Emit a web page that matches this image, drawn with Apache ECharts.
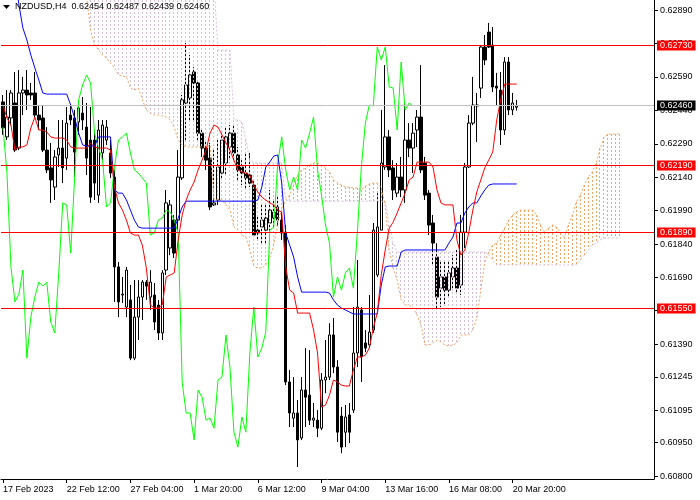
<!DOCTYPE html>
<html>
<head>
<meta charset="utf-8">
<script src="https://cdn.jsdelivr.net/npm/echarts@6.0.0/dist/echarts.min.js"></script>
<style>
  html, body { margin: 0; padding: 0; background: #fff; }
  #chart { width: 700px; height: 500px; }
</style>
</head>
<body>
<div id="chart"></div>
<script>
// ---------------- DATA ----------------
const symbol = 'NZDUSD';
const timeframe = 'H4';

// x-axis tick labels, one every 16 H4 bars starting at bar 0
const xTickLabels = ['17 Feb 2023', '22 Feb 12:00', '27 Feb 04:00', '1 Mar 20:00', '6 Mar 12:00',
  '9 Mar 04:00', '13 Mar 16:00', '16 Mar 08:00', '20 Mar 20:00'];
const barsPerXLabel = 16;

// right price-axis labels
const yTickLabels = ['0.60800', '0.60950', '0.61095', '0.61245', '0.61390', '0.61545', '0.61690',
  '0.61840', '0.61990', '0.62140', '0.62290', '0.62440', '0.62590', '0.62740', '0.62890'];

// horizontal levels drawn on the chart
const redLevels = [0.62730, 0.62190, 0.61890, 0.61550];

const open = [
  0.62478,0.62321,0.62406,0.62473,0.62271,0.62518,0.62531,0.62518,0.62518,0.62419,
  0.62406,0.62262,0.62182,0.62096,0.62240,0.62271,0.62226,0.62419,0.62406,0.62388,
  0.62428,0.62365,0.62307,0.62307,0.62060,0.62249,0.62307,0.62249,0.62141,0.61738,
  0.61612,0.61558,0.61590,0.61329,0.61513,0.61603,0.61670,0.61603,0.61612,0.61567,
  0.61442,0.61724,0.61823,0.61948,0.61948,0.62137,0.62473,0.62496,0.62612,0.62563,
  0.62338,0.62271,0.62226,0.62016,0.62038,0.62159,0.62204,0.62276,0.62338,0.62240,
  0.62186,0.62159,0.62150,0.62105,0.61903,0.61917,0.61903,0.61935,0.61957,0.62007,
  0.61948,0.61894,0.61222,0.61060,0.61083,0.60971,0.61186,0.61163,0.61051,0.61051,
  0.61015,0.61231,0.61244,0.61433,0.61289,0.61069,0.60997,0.61074,0.61096,0.61352,
  0.61545,0.61397,0.61388,0.61455,0.61702,0.61903,0.62186,0.62321,0.62182,0.62069,
  0.62141,0.62083,0.62307,0.62271,0.62352,0.62410,0.62204,0.62069,0.61935,0.61782,
  0.61643,0.61693,0.61634,0.61693,0.61733,0.61657,0.61894,0.62186,0.62383,0.62464,
  0.62540,0.62724,0.62791,0.62733,0.62549,0.62531,0.62352,0.62657,0.62442,0.62454];

const high = [
  0.62509,0.62531,0.62531,0.62612,0.62621,0.62590,0.62621,0.62563,0.62612,0.62464,
  0.62464,0.62365,0.62294,0.62262,0.62397,0.62397,0.62455,0.62464,0.62442,0.62473,
  0.62500,0.62473,0.62455,0.62352,0.62397,0.62397,0.62397,0.62307,0.62173,0.61760,
  0.61693,0.61738,0.61657,0.61679,0.61679,0.61679,0.61679,0.61724,0.61666,0.61590,
  0.61724,0.62083,0.62038,0.61971,0.62262,0.62509,0.62742,0.62688,0.62634,0.62576,
  0.62352,0.62307,0.62294,0.62262,0.62307,0.62338,0.62361,0.62374,0.62374,0.62276,
  0.62217,0.62253,0.62249,0.62128,0.61971,0.62016,0.62025,0.62083,0.62038,0.62060,
  0.61984,0.61926,0.61276,0.61244,0.61141,0.61244,0.61374,0.61365,0.61128,0.61096,
  0.61262,0.61410,0.61486,0.61509,0.61320,0.61110,0.61119,0.61128,0.61558,0.61769,
  0.61558,0.61455,0.61612,0.61935,0.62069,0.62442,0.62643,0.62352,0.62217,0.62204,
  0.62231,0.62478,0.62383,0.62383,0.62442,0.62643,0.62231,0.62083,0.61971,0.61845,
  0.61769,0.61760,0.61769,0.61791,0.61814,0.61971,0.62204,0.62419,0.62590,0.62518,
  0.62733,0.62778,0.62832,0.62814,0.62608,0.62612,0.62679,0.62679,0.62518,0.62487];

const low = [
  0.62330,0.62307,0.62374,0.62253,0.62262,0.62419,0.62442,0.62487,0.62406,0.62352,
  0.62253,0.62159,0.62025,0.62038,0.62186,0.62114,0.62173,0.62374,0.62141,0.62330,
  0.62352,0.62150,0.62025,0.62038,0.62025,0.62217,0.62285,0.62137,0.61581,0.61513,
  0.61576,0.61513,0.61320,0.61320,0.61410,0.61500,0.61590,0.61545,0.61455,0.61410,
  0.61410,0.61702,0.61791,0.61778,0.61903,0.62128,0.62307,0.62397,0.62397,0.62307,
  0.62231,0.62173,0.61993,0.62011,0.62016,0.62128,0.62150,0.62217,0.62217,0.62128,
  0.62105,0.62083,0.62096,0.61872,0.61859,0.61836,0.61845,0.61894,0.61912,0.61921,
  0.61859,0.61208,0.61020,0.61020,0.60841,0.60962,0.61020,0.61029,0.61020,0.60975,
  0.61006,0.61172,0.61231,0.61262,0.60953,0.60903,0.60930,0.60948,0.61083,0.61289,
  0.61222,0.61356,0.61374,0.61442,0.61693,0.61903,0.62173,0.62141,0.62038,0.62051,
  0.62051,0.62025,0.62231,0.62159,0.62276,0.62159,0.62038,0.61881,0.61747,0.61545,
  0.61558,0.61567,0.61603,0.61634,0.61625,0.61612,0.61823,0.62182,0.62374,0.62298,
  0.62496,0.62643,0.62720,0.62522,0.62464,0.62285,0.62330,0.62419,0.62419,0.62439];

const close = [
  0.62361,0.62410,0.62518,0.62262,0.62518,0.62531,0.62509,0.62509,0.62419,0.62397,
  0.62262,0.62173,0.62128,0.62231,0.62271,0.62182,0.62383,0.62397,0.62253,0.62451,
  0.62397,0.62226,0.62051,0.62114,0.62352,0.62374,0.62365,0.62159,0.61738,0.61581,
  0.61616,0.61724,0.61329,0.61513,0.61603,0.61670,0.61652,0.61670,0.61491,0.61442,
  0.61711,0.62025,0.62016,0.61800,0.62141,0.62487,0.62554,0.62599,0.62563,0.62338,
  0.62271,0.62217,0.62007,0.62025,0.62186,0.62307,0.62321,0.62338,0.62249,0.62173,
  0.62159,0.62137,0.62114,0.61881,0.61890,0.61948,0.61957,0.61993,0.61984,0.61948,
  0.61890,0.61222,0.61083,0.61083,0.60962,0.61186,0.61154,0.61051,0.61060,0.61015,
  0.61231,0.61244,0.61433,0.61289,0.60997,0.60930,0.61065,0.60997,0.61352,0.61558,
  0.61334,0.61374,0.61446,0.61903,0.61917,0.62204,0.62321,0.62173,0.62083,0.62141,
  0.62083,0.62307,0.62271,0.62338,0.62410,0.62173,0.62060,0.61926,0.61845,0.61603,
  0.61693,0.61634,0.61711,0.61733,0.61643,0.61894,0.62186,0.62383,0.62464,0.62460,
  0.62724,0.62666,0.62724,0.62545,0.62540,0.62352,0.62657,0.62442,0.62473,0.62460];

// Ichimoku: Tenkan-sen (red)
const tenkan = [
  0.62464,0.62406,0.62374,0.62262,0.62276,0.62276,0.62285,0.62361,0.62410,0.62352,
  0.62352,0.62343,0.62321,0.62316,0.62316,0.62316,0.62307,0.62276,0.62271,0.62271,
  0.62271,0.62271,0.62294,0.62276,0.62271,0.62271,0.62271,0.62262,0.62096,0.62025,
  0.61993,0.61948,0.61890,0.61881,0.61881,0.61836,0.61733,0.61567,0.61554,0.61554,
  0.61567,0.61693,0.61702,0.61711,0.61859,0.61971,0.62038,0.62083,0.62119,0.62173,
  0.62217,0.62262,0.62338,0.62374,0.62365,0.62330,0.62294,0.62262,0.62217,0.62173,
  0.62164,0.62159,0.62150,0.62105,0.62074,0.62051,0.62038,0.62025,0.62016,0.61993,
  0.61984,0.61738,0.61634,0.61621,0.61531,0.61531,0.61531,0.61531,0.61455,0.61352,
  0.61110,0.61119,0.61163,0.61231,0.61222,0.61208,0.61204,0.61204,0.61276,0.61334,
  0.61334,0.61343,0.61374,0.61464,0.61531,0.61702,0.61814,0.61912,0.61939,0.61980,
  0.62025,0.62069,0.62128,0.62141,0.62208,0.62208,0.62208,0.62208,0.62186,0.62083,
  0.62025,0.62016,0.62016,0.62016,0.61859,0.61791,0.61814,0.61894,0.61993,0.62074,
  0.62128,0.62182,0.62217,0.62253,0.62397,0.62487,0.62558,0.62558,0.62558,0.62558];

// Ichimoku: Kijun-sen (blue); first values lie above the visible price range
const kijun = [
  0.63052,0.63052,0.63052,0.63052,0.62913,0.62809,0.62756,0.62688,0.62630,0.62576,
  0.62518,0.62513,0.62513,0.62513,0.62513,0.62513,0.62513,0.62464,0.62406,0.62338,
  0.62285,0.62280,0.62280,0.62280,0.62321,0.62321,0.62321,0.62321,0.62083,0.62069,
  0.62069,0.62038,0.61993,0.61948,0.61917,0.61912,0.61912,0.61912,0.61912,0.61912,
  0.61912,0.61912,0.61912,0.61912,0.61957,0.62007,0.62033,0.62033,0.62033,0.62033,
  0.62033,0.62033,0.62033,0.62033,0.62033,0.62033,0.62033,0.62033,0.62033,0.62033,
  0.62033,0.62033,0.62033,0.62033,0.62038,0.62096,0.62186,0.62208,0.62235,0.62240,
  0.62114,0.61890,0.61836,0.61782,0.61693,0.61625,0.61625,0.61625,0.61625,0.61625,
  0.61625,0.61625,0.61621,0.61590,0.61567,0.61554,0.61545,0.61536,0.61527,0.61527,
  0.61527,0.61527,0.61527,0.61527,0.61527,0.61657,0.61738,0.61742,0.61742,0.61742,
  0.61805,0.61814,0.61814,0.61814,0.61814,0.61814,0.61814,0.61814,0.61814,0.61814,
  0.61814,0.61814,0.61845,0.61872,0.61935,0.61935,0.61980,0.62007,0.62025,0.62025,
  0.62056,0.62083,0.62105,0.62110,0.62110,0.62110,0.62110,0.62110,0.62110,0.62110];

// Senkou span A / B (plotted 26 bars ahead); first visible at bar 21
const senkouStart = 21;
const senkouA = [
  0.62948,0.62800,0.62733,0.62711,0.62688,0.62675,0.62652,0.62630,0.62599,0.62594,
  0.62590,0.62540,0.62531,0.62540,0.62487,0.62442,0.62428,0.62419,0.62419,0.62415,
  0.62410,0.62397,0.62365,0.62307,0.62285,0.62276,0.62276,0.62276,0.62276,0.62276,
  0.62276,0.62285,0.62038,0.62038,0.62038,0.62016,0.61993,0.61917,0.61903,0.61881,
  0.61872,0.61814,0.61742,0.61733,0.61733,0.61747,0.61778,0.61836,0.61939,0.61993,
  0.62038,0.62060,0.62105,0.62150,0.62173,0.62182,0.62195,0.62204,0.62204,0.62195,
  0.62182,0.62164,0.62128,0.62114,0.62105,0.62096,0.62096,0.62092,0.62092,0.62083,
  0.62101,0.62110,0.62114,0.62114,0.62092,0.62016,0.61814,0.61733,0.61679,0.61590,
  0.61567,0.61567,0.61554,0.61522,0.61477,0.61388,0.61388,0.61397,0.61410,0.61401,
  0.61388,0.61383,0.61388,0.61397,0.61433,0.61433,0.61433,0.61455,0.61509,0.61634,
  0.61760,0.61805,0.61836,0.61845,0.61881,0.61912,0.61948,0.61971,0.61984,0.61993,
  0.61993,0.61993,0.61993,0.61971,0.61926,0.61894,0.61912,0.61926,0.61917,0.61890,
  0.61872,0.61926,0.61971,0.62029,0.62060,0.62105,0.62141,0.62164,0.62204,0.62271,
  0.62321,0.62334,0.62334,0.62334,0.62334];
// Senkou B: first values lie above the visible price range
const senkouB = [
  0.63002,0.63002,0.63002,0.63002,0.63002,0.63002,0.63002,0.63002,0.63002,0.63002,
  0.63002,0.63002,0.63002,0.63002,0.63002,0.63002,0.63002,0.63002,0.63002,0.63002,
  0.63002,0.63002,0.63002,0.63002,0.63002,0.63002,0.63002,0.63002,0.63002,0.63002,
  0.63002,0.63002,0.63002,0.62711,0.62711,0.62711,0.62711,0.62397,0.62397,0.62388,
  0.62307,0.62217,0.62204,0.62204,0.62204,0.62204,0.62204,0.62204,0.62204,0.62204,
  0.62038,0.62033,0.62033,0.62033,0.62033,0.62033,0.62033,0.62033,0.62033,0.62033,
  0.62033,0.62033,0.62033,0.62033,0.62033,0.62033,0.62033,0.62033,0.62033,0.62033,
  0.62033,0.62033,0.62033,0.62033,0.62033,0.62033,0.61926,0.61845,0.61805,0.61805,
  0.61805,0.61805,0.61805,0.61805,0.61805,0.61805,0.61805,0.61805,0.61805,0.61805,
  0.61805,0.61805,0.61805,0.61805,0.61805,0.61805,0.61805,0.61805,0.61805,0.61805,
  0.61805,0.61791,0.61769,0.61747,0.61747,0.61747,0.61747,0.61747,0.61747,0.61747,
  0.61747,0.61747,0.61747,0.61747,0.61747,0.61747,0.61747,0.61747,0.61747,0.61747,
  0.61747,0.61747,0.61747,0.61747,0.61769,0.61791,0.61814,0.61836,0.61845,0.61859,
  0.61868,0.61868,0.61868,0.61868,0.61868];
const chikouShift = 26;

// ---------------- STYLE ----------------
const FONT = '"Liberation Sans", Arial, sans-serif';
const slotCount = 164;
const yMin = 0.60787, yMax = 0.62935;
const colUpCloud = '#F4A460', colDnCloud = '#D8BFD8';

const last = close.length - 1;
const fmt = v => v.toFixed(5);

const categories = [];
for (let i = 0; i < slotCount; i++) categories.push(String(i));
const isXLabel = idx => idx % barsPerXLabel === 0 && idx / barsPerXLabel < xTickLabels.length;

const candleData = open.map((o, i) => [o, close[i], low[i], high[i]]);
const chikou = close.slice(chikouShift);

const fullA = [], fullB = [], cloudData = [];
for (let i = 0; i < senkouStart; i++) { fullA.push(null); fullB.push(null); }
senkouA.forEach((a, k) => {
  const i = senkouStart + k;
  fullA.push(a); fullB.push(senkouB[k]);
  cloudData.push([i, a, senkouB[k]]);
});

function crisp(x) {
  const d = Math.round(x * 2);
  return (d + 1) % 2 === 0 ? d / 2 : (d - 1) / 2;
}

function renderCloud(params, api) {
  const i = api.value(0), a = api.value(1), b = api.value(2);
  const p1 = api.coord([i, a]), p2 = api.coord([i, b]);
  const cs = params.coordSys;
  const top = cs.y, bot = cs.y + cs.height;
  const y1 = Math.max(top, Math.min(bot, p1[1]));
  const y2 = Math.max(top, Math.min(bot, p2[1]));
  const x = crisp(p1[0]);
  return {
    type: 'line',
    silent: true,
    shape: { x1: x, y1: Math.min(y1, y2), x2: x, y2: Math.max(y1, y2) },
    style: { stroke: a >= b ? colUpCloud : colDnCloud, lineWidth: 1, lineDash: [2, 2] }
  };
}

// level lines: [price, kind] where kind 0 = red object line, 1 = bid line
const levelData = redLevels.map(v => [v, 0]).concat([[close[last], 1]]);
const levelLine = ['#FF0000', '#C0C0C0'];
const levelBox = ['#FF0000', '#000000'];

function renderLevel(params, api) {
  const v = api.value(0), kind = api.value(1);
  const cs = params.coordSys;
  const y = crisp(api.coord([0, v])[1]);
  return {
    type: 'group',
    children: [
      {
        type: 'line', silent: true,
        shape: { x1: cs.x, y1: y, x2: cs.x + cs.width, y2: y },
        style: { stroke: levelLine[kind], lineWidth: 1 }
      },
      {
        type: 'text', silent: true,
        style: {
          text: fmt(v), x: cs.x + cs.width + 3, y: y,
          align: 'left', verticalAlign: 'middle',
          fill: '#FFFFFF', backgroundColor: levelBox[kind],
          padding: [1, 3, 0, 3], lineHeight: 9,
          font: '9px ' + FONT
        }
      }
    ]
  };
}

const chart = echarts.init(document.getElementById('chart'), null, { renderer: 'canvas' });
chart.setOption({
  animation: false,
  backgroundColor: '#FFFFFF',
  grid: { left: 0, right: 46, top: 0, bottom: 21 },
  xAxis: {
    type: 'category',
    data: categories,
    boundaryGap: true,
    axisLine: { show: true, lineStyle: { color: '#000', width: 1 } },
    axisTick: { show: true, alignWithLabel: true, interval: isXLabel, length: 4, lineStyle: { color: '#000' } },
    axisLabel: {
      interval: isXLabel,
      formatter: (val, idx) => xTickLabels[Math.round(idx / barsPerXLabel)] || '',
      align: 'left', margin: 6, color: '#000', fontFamily: FONT, fontSize: 9
    },
    splitLine: { show: false }
  },
  yAxis: {
    type: 'value',
    position: 'right',
    min: yMin, max: yMax,
    scale: true,
    axisLine: { show: true, onZero: false, lineStyle: { color: '#000', width: 1 } },
    axisTick: { show: true, length: 4, customValues: yTickLabels.map(Number), lineStyle: { color: '#000' } },
    axisLabel: {
      customValues: yTickLabels.map(Number),
      formatter: v => fmt(v),
      margin: 6, color: '#000', fontFamily: FONT, fontSize: 9
    },
    splitLine: { show: false }
  },
  series: [
    {
      type: 'candlestick',
      data: candleData,
      barWidth: 3,
      z: 2,
      itemStyle: { color: '#FFFFFF', color0: '#000000', borderColor: '#000000', borderColor0: '#000000', borderWidth: 1 }
    },
    {
      type: 'custom',
      data: cloudData,
      renderItem: renderCloud,
      encode: { x: 0, y: [1, 2] },
      z: 3,
      silent: true
    },
    {
      type: 'line', data: fullA, symbol: 'none', z: 3, silent: true,
      lineStyle: { color: colUpCloud, width: 1, type: [2, 2] }
    },
    {
      type: 'line', data: fullB, symbol: 'none', z: 3, silent: true,
      lineStyle: { color: colDnCloud, width: 1, type: [2, 2] }
    },
    {
      type: 'line', data: chikou, symbol: 'none', z: 4, silent: true,
      lineStyle: { color: '#00FF00', width: 1 }
    },
    {
      type: 'line', data: kijun, symbol: 'none', z: 4, silent: true,
      lineStyle: { color: '#0000FF', width: 1 }
    },
    {
      type: 'line', data: tenkan, symbol: 'none', z: 4, silent: true,
      lineStyle: { color: '#FF0000', width: 1 }
    },
    {
      type: 'custom',
      data: levelData,
      renderItem: renderLevel,
      encode: { y: 0 },
      z: 6,
      silent: true,
      clip: false
    }
  ],
  graphic: [
    { type: 'polygon', shape: { points: [[3, 5], [10, 5], [6.5, 9]] }, style: { fill: '#000' }, z: 100 },
    {
      type: 'text', left: 15, top: 2, z: 100,
      style: {
        text: symbol + ',' + timeframe + '  ' + [open[last], high[last], low[last], close[last]].map(fmt).join(' '),
        font: '9px ' + FONT, fill: '#000'
      }
    }
  ]
});
</script>
</body>
</html>
